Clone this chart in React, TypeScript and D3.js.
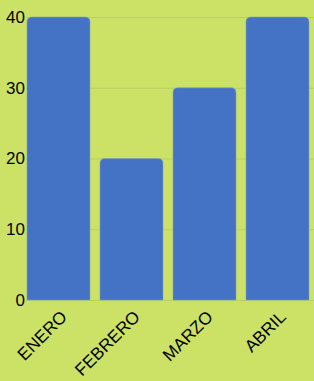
import React, { useEffect, useRef } from "react";
import * as d3 from "d3";

const months = ["ENERO", "FEBRERO", "MARZO", "ABRIL"];
const values = [40, 20, 30, 40];
const yTicks = [0, 10, 20, 30, 40];

const W = 314;
const H = 381;

const App = () => {
  const svgRef = useRef<SVGSVGElement | null>(null);

  useEffect(() => {
    const svg = d3.select(svgRef.current);
    svg.selectAll("*").remove();

    const x = d3
      .scaleBand()
      .domain(months)
      .range([22, 314])
      .paddingInner(0.137)
      .paddingOuter(0.0685);

    const y = d3.scaleLinear().domain([0, 40]).range([300, 17]);

    svg.append("rect").attr("width", W).attr("height", H).attr("fill", "#cce266");

    // gridlines
    svg
      .append("g")
      .selectAll("line")
      .data(yTicks)
      .enter()
      .append("line")
      .attr("x1", 26)
      .attr("x2", W)
      .attr("y1", (d) => y(d) + 0.5)
      .attr("y2", (d) => y(d) + 0.5)
      .attr("stroke", "#b7d063")
      .attr("stroke-width", 1);

    // bars, rounded top corners
    const r = 5;
    svg
      .append("g")
      .selectAll("path")
      .data(values)
      .enter()
      .append("path")
      .attr("d", (d, i) => {
        const x0 = x(months[i])!;
        const x1 = x0 + x.bandwidth();
        const y0 = y(d);
        const yb = y(0);
        return `M${x0},${yb}V${y0 + r}Q${x0},${y0} ${x0 + r},${y0}H${x1 - r}Q${x1},${y0} ${x1},${y0 + r}V${yb}Z`;
      })
      .attr("fill", "#4472c4")
      .attr("stroke", "#7f9fc0")
      .attr("stroke-width", 0.6);

    // y labels
    svg
      .append("g")
      .selectAll("text")
      .data(yTicks)
      .enter()
      .append("text")
      .attr("x", 25)
      .attr("y", (d) => y(d))
      .attr("dy", "0.35em")
      .attr("text-anchor", "end")
      .attr("font-family", "Liberation Sans, Arial, sans-serif")
      .attr("font-size", 17)
      .attr("fill", "#000")
      .text((d) => d);

    // x labels
    svg
      .append("g")
      .selectAll("text")
      .data(months)
      .enter()
      .append("text")
      .attr("transform", (d) => {
        const cx = x(d)! + x.bandwidth() / 2 + 9.5;
        return `translate(${cx},${318}) rotate(-45)`;
      })
      .attr("text-anchor", "end")
      .attr("font-family", "Liberation Sans, Arial, sans-serif")
      .attr("font-size", 17.3)
      .attr("fill", "#000")
      .text((d) => d);
  }, []);

  return (
    <svg
      ref={svgRef}
      width={W}
      height={H}
      style={{ position: "absolute", left: 0, top: 0, display: "block" }}
    ></svg>
  );
};

export default App;
